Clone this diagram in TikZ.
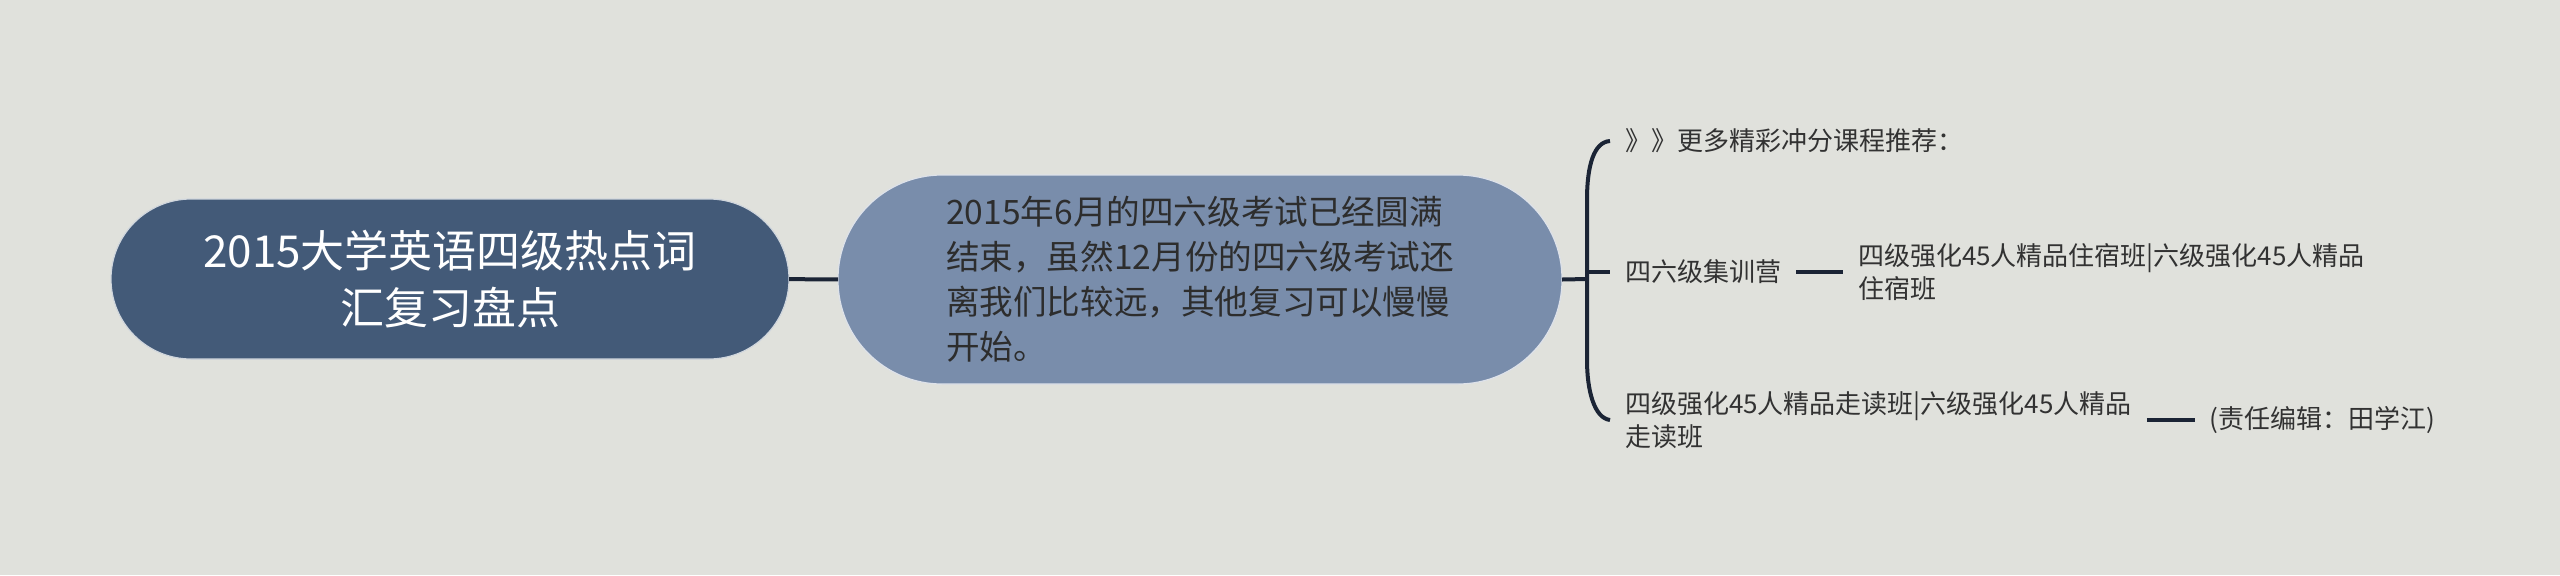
\documentclass[tikz,border=0pt]{standalone}
\usepackage{fontspec}
\setmainfont{Noto Sans CJK SC}
\usetikzlibrary{positioning}

\definecolor{bgcolor}{RGB}{224,225,220}
\definecolor{rootblue}{RGB}{67,90,120}
\definecolor{topicblue}{RGB}{121,141,171}
\definecolor{linkcolor}{RGB}{27,36,53}
\definecolor{darktext}{RGB}{45,45,45}
\definecolor{leaftext}{RGB}{50,50,50}

\begin{document}
\begin{tikzpicture}[
	x=0.5pt, y=-0.5pt,
	every node/.style = {inner sep=0pt, outer sep=0pt},
	root node/.style = {rectangle, rounded corners=40pt, fill=rootblue, draw=white!75!rootblue, line width=0.6pt, minimum width=339pt, minimum height=80pt, align=center, text=white, font=\fontsize{22}{28.5}\selectfont},
	topic node/.style = {rectangle, rounded corners=52pt, fill=topicblue, draw=white!75!topicblue, line width=0.6pt, minimum width=362pt, minimum height=104.5pt, align=left, text=darktext, font=\fontsize{16.8}{22.5}\selectfont},
	leaf node/.style = {anchor=west, inner xsep=7.5pt, inner ysep=2pt, align=left, text=leaftext, font=\fontsize{13}{16.5}\selectfont},
	link/.style = {draw=linkcolor, line width=2pt}
]

\fill[bgcolor] (0,0) rectangle (2560,575);
\useasboundingbox (0,0) rectangle (2560,575);

\node[root node] (root) at (450,279) {2015大学英语四级热点词\\汇复习盘点};
\node[topic node] (topic) at (1200,279.5) {2015年6月的四六级考试已经圆满\\结束，虽然12月份的四六级考试还\\离我们比较远，其他复习可以慢慢\\开始。};

\node[leaf node] (more) at (1610,141) {》》更多精彩冲分课程推荐：};
\node[leaf node] (camp) at (1610,272) {四六级集训营};
\node[leaf node, right=23.5pt of camp] (stay) {四级强化45人精品住宿班|六级强化45人精品\\住宿班};
\node[leaf node] (walk) at (1610,420) {四级强化45人精品走读班|六级强化45人精品\\走读班};
\node[leaf node, right=24pt of walk] (editor) {(责任编辑：田学江)};

\coordinate (hub) at (1587,279);
\coordinate (hubtop) at (1587,200);
\coordinate (hubbot) at (1587,360);

\draw[link] (root) -- (topic);
\draw[link] (topic.east) -- (hub);
\draw[link] (more.west) .. controls (1594,142) and (1587,165) .. (hubtop) -- (hubbot) .. controls (1587,390) and (1594,418) .. (walk.west);
\draw[link] (hub |- camp.west) -- (camp.west);
\draw[link] (camp.east) -- (stay.west);
\draw[link] (walk.east) -- (editor.west);

\end{tikzpicture}
\end{document}
